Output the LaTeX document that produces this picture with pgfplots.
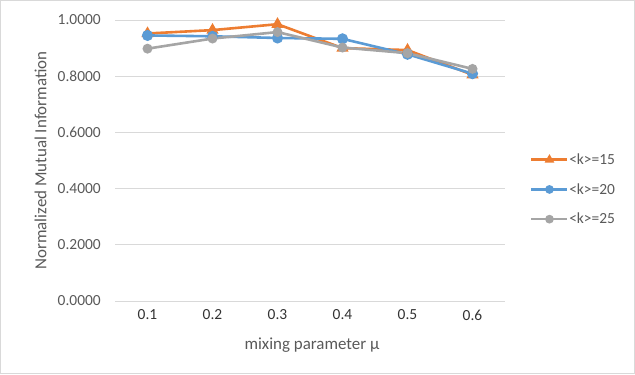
\documentclass[border=0pt]{standalone}
\usepackage{pgfplots}
\pgfplotsset{compat=1.18}
\usepackage{fontspec}
\setmainfont{Carlito}
\definecolor{sorange}{HTML}{ED7D31}
\definecolor{sblue}{HTML}{5B9BD5}
\definecolor{sgray}{HTML}{A5A5A5}
\definecolor{txtgray}{HTML}{595959}
\definecolor{gridgray}{HTML}{D9D9D9}
\begin{document}
\begin{tikzpicture}[x=1bp,y=1bp]
\useasboundingbox (0,0) rectangle (635,374);
\draw[gridgray,line width=0.8bp] (0.5,0.5) rectangle (634.5,373.5);
\begin{axis}[
  at={(115bp,73bp)}, anchor=south west,
  scale only axis, width=390bp, height=281bp,
  xmin=-0.5, xmax=5.5, ymin=0, ymax=1,
  xtick={0,1,2,3,4,5},
  xticklabels={0.1,0.2,0.3,0.4,0.5,0.6},
  ytick={0,0.2,0.4,0.6,0.8,1.0},
  yticklabel style={/pgf/number format/fixed,/pgf/number format/fixed zerofill,/pgf/number format/precision=4},
  /pgf/number format/assume math mode=true,
  axis x line*=bottom, axis y line*=left,
  x axis line style={gridgray,line width=0.8bp,-},
  y axis line style={draw=none},
  ymajorgrids, grid style={gridgray,line width=0.8bp},
  major tick length=0pt,
  tick label style={font=\fontsize{15.5}{18}\selectfont},
  yticklabel style={text=txtgray,anchor=east,xshift=-10.7bp},
  xticklabel style={text=black!80,anchor=center,yshift=-14bp},
  ylabel={Normalized Mutual Information},
  xlabel={mixing parameter μ},
  label style={font=\fontsize{17}{20}\selectfont,text=txtgray},
  ylabel style={at={(-74.4bp,140.5bp)}, anchor=center},
  xlabel style={at={(197bp,-44.3bp)}, anchor=center},
  legend style={at={(1.064,0.397)}, anchor=west, draw=none, fill=none,
    font=\fontsize{15.5}{18}\selectfont, text=txtgray,
    row sep=16.5bp, inner sep=0pt, nodes={inner sep=0.5bp}},
  legend cell align=left,
  legend image code/.code={
    \draw[#1,mark repeat=2,mark phase=2,mark size=3bp] plot coordinates {(0bp,0bp) (18bp,0bp) (36bp,0bp)};},
  every axis plot/.append style={line width=2.6bp},
  clip=false,
]
\addplot[sorange, mark=triangle*, mark size=4.5bp, mark options={solid}] coordinates {
  (0,0.952) (1,0.964) (2,0.985) (3,0.900) (4,0.893) (5,0.805)};
\addlegendentry{<k>=15}
\addplot[sblue, mark=*, mark size=4.2bp] coordinates {
  (0,0.945) (1,0.942) (2,0.936) (3,0.933) (4,0.878) (5,0.809)};
\addlegendentry{<k>=20}
\addplot[sgray, mark=*, mark size=3.6bp] coordinates {
  (0,0.898) (1,0.934) (2,0.957) (3,0.902) (4,0.882) (5,0.826)};
\addlegendentry{<k>=25}
\end{axis}
\end{tikzpicture}
\end{document}
